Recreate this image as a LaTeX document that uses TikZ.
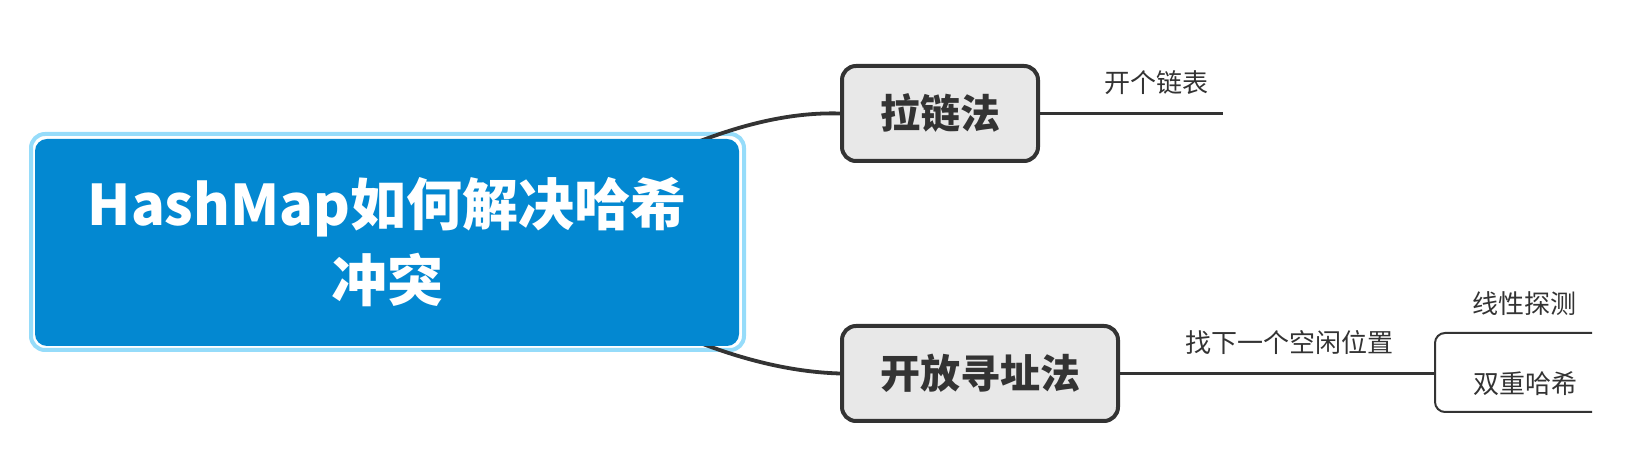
\documentclass[tikz,border=0pt]{standalone}
\usepackage{fontspec}
\newfontfamily\cjk{Noto Sans CJK SC}
\definecolor{dark}{HTML}{333333}
\definecolor{mainblue}{RGB}{3,136,209}
\definecolor{ringblue}{RGB}{150,220,250}
\definecolor{boxgray}{HTML}{E8E8E8}
\begin{document}
\begin{tikzpicture}[x=1pt,y=1pt,
  trunk/.style={draw=dark,line width=3.8pt},
  branch/.style={draw=dark,line width=2.3pt},
  bracketline/.style={draw=dark,line width=2pt,rounded corners=10pt},
  topicbox/.style={draw=dark,line width=4pt,fill=boxgray,rounded corners=14pt,inner sep=0pt,
    font=\cjk\bfseries\fontsize{40}{48}\selectfont,text=dark},
  leaf/.style={inner sep=0pt,font=\cjk\fontsize{26}{30}\selectfont,text=dark},
  ring/.style={draw=ringblue,line width=4pt,fill=white,rounded corners=14pt},
  centralbox/.style={fill=mainblue,rounded corners=12pt,text=white,align=center,
    font=\cjk\bfseries\fontsize{56}{76}\selectfont}]
\useasboundingbox (0,0) rectangle (1633,465);

% topic boxes
\node[topicbox,minimum width=196pt,minimum height=95pt] (la) at (940,351.5) {拉链法};
\node[topicbox,minimum width=276pt,minimum height=95pt] (kf) at (980,91.5) {开放寻址法};

% central topic ring
\node[ring,minimum width=713pt,minimum height=216pt] (main) at (387.5,223) {};

% trunk connectors (start hidden inside the central box, drawn over the ring)
\coordinate (s1) at (690,320);
\coordinate (s2) at (690,126);
\draw[trunk] (s1) .. controls (740,340) and (790,353) .. (la.west);
\draw[trunk] (s2) .. controls (740,106) and (790,93) .. (kf.west);

% central topic body
\node[centralbox,minimum width=704pt,minimum height=207pt] (mainin) at (387,222.5) {HashMap如何解决哈希\\冲突};

% branch from 拉链法
\coordinate (le) at (1223,353);
\draw[branch] (la.east) -- (la.east -| le);
\node[leaf] (t1) at (1156,382) {开个链表};

% branch from 开放寻址法
\coordinate (br) at (1435,93);
\coordinate (top) at (1592,132);
\coordinate (bot) at (1592,53);
\draw[branch] (kf.east) -- (kf.east -| br);
\node[leaf] (t2) at (1289,122) {找下一个空闲位置};
\draw[bracketline] (top) -- (top -| br) -- (bot -| br) -- (bot);
\node[leaf] (t3) at (1524,161) {线性探测};
\node[leaf] (t4) at (1525,81) {双重哈希};
\end{tikzpicture}
\end{document}
